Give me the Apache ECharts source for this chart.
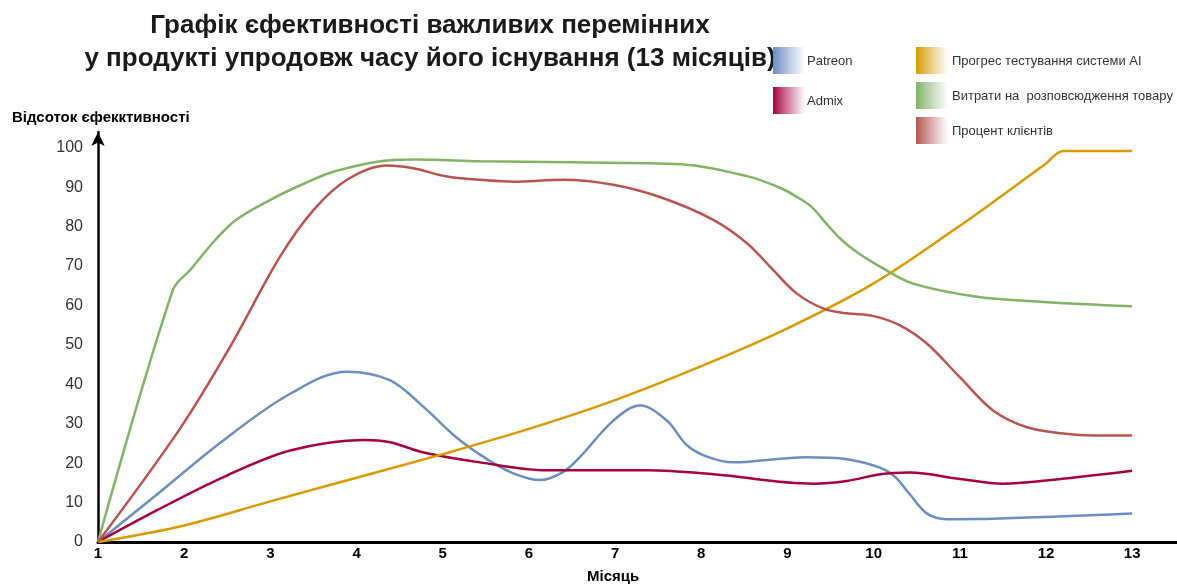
<!DOCTYPE html>
<html>
<head>
<meta charset="utf-8">
<script src="https://cdn.jsdelivr.net/npm/echarts@6/dist/echarts.min.js"></script>
<style>
  html, body { margin: 0; padding: 0; background: #ffffff; }
  #chart { width: 1177px; height: 585px; }
</style>
</head>
<body>
<div id="chart"></div>
<script>
// Series values as [month, percent] pairs, sampled along each curve
const patreon = [[1,0],[1.68,12],[2.45,25.7],[3.23,37.6],[3.89,43.2],[4.39,41],[4.78,34.2],[5.16,26.5],[5.5,21.2],
  [5.8,17.6],[6.13,15.7],[6.4,17.8],[6.59,21.5],[6.98,30.8],[7.29,34.6],[7.6,30.8],[7.83,24.6],[8.05,21.8],
  [8.37,20.2],[9.22,21.5],[9.69,21.0],[10.08,18.8],[10.25,16.5],[10.42,12.1],[10.62,7.2],[10.85,5.8],[11.39,5.9],[13,7.2]];
const admix = [[1,0],[1.68,8],[2.45,16.4],[3.23,23.2],[4.08,25.9],[4.39,25.3],[4.78,22.7],[5.43,20.2],[6.21,18.2],
  [7.37,18.2],[8.14,17.2],[9.3,14.8],[9.69,15.5],[10.08,17.2],[10.42,17.6],[11.0,16.0],[11.5,14.8],[12.0,15.6],[13,18.1]];
const aiProgress = [[1,0],[2,4.2],[3,10.3],[4,16.3],[5,22.3],[6,28.7],[7,36],[8,44.6],[9,54.2],[10,65.6],
  [11,80.2],[11.5,88],[12,96],[12.2,99.2],[13,99.2]];
const distributionCost = [[1,0],[1.87,64],[2.07,69],[2.36,76.6],[2.6,81.7],[3,86.8],[3.4,91],[3.74,94],[4.36,96.8],
  [4.7,97],[5.43,96.6],[6.5,96.3],[7.76,95.8],[8.53,92.8],[8.92,89.8],[9.12,87.4],[9.28,85.0],[9.45,80.8],
  [9.62,76.8],[9.82,73.3],[10.08,69.8],[10.45,65.6],[11.2,62.2],[11.97,60.9],[13,59.8]];
const clientShare = [[1,0],[1.95,28.7],[2.53,49.4],[3.11,72.3],[3.5,84.2],[3.89,91.9],[4.35,95.5],[4.66,94.8],
  [5.05,92.7],[5.43,91.9],[5.82,91.4],[6.4,91.9],[6.98,90.6],[7.56,87.2],[8.14,81.7],[8.53,75.8],[8.8,69.8],
  [9.11,63.0],[9.42,59.2],[9.69,58],[10,57.3],[10.3,55],[10.62,50.3],[11.0,41.8],[11.39,33.3],
  [11.78,29.1],[12.2,27.5],[12.55,27.0],[13,27.0]];

const seriesNames = ['Patreon', 'Admix', 'Прогрес тестування системи AI', 'Витрати на  розповсюдження товару', 'Процент клієнтів'];
const seriesData = [patreon, admix, aiProgress, distributionCost, clientShare];
const seriesColors = ['#6c8ebf', '#a50040', '#d79b00', '#82b366', '#b85450'];

const titleLines = ['Графік єфективності важливих перемінних', 'у продукті упродовж часу його існування (13 місяців)'];
const yAxisTitle = 'Відсоток єфекктивності';
const xAxisTitle = 'Місяць';

const chart = echarts.init(document.getElementById('chart'));

function swatch(x, y, color) {
  return {
    type: 'rect',
    shape: { x: x, y: y, width: 32, height: 27 },
    style: {
      fill: new echarts.graphic.LinearGradient(0, 0, 1, 0, [
        { offset: 0, color: color },
        { offset: 1, color: 'rgba(255,255,255,0.9)' }
      ])
    }
  };
}
function legendText(x, y, text) {
  return {
    type: 'text', x: x, y: y,
    style: { text: text, font: '13px "Liberation Sans", Arial, sans-serif', fill: '#333333', verticalAlign: 'middle' }
  };
}

const legendSlots = [[773, 47], [773, 87], [916, 47], [916, 82], [916, 117]];
const graphics = [
  {
    type: 'text', x: 430, y: 9,
    style: {
      text: titleLines.join('\n'), textAlign: 'center', lineHeight: 33,
      font: 'bold 26px "Liberation Sans", Arial, sans-serif', fill: '#1a1a1a'
    }
  },
  {
    type: 'text', x: 12, y: 118,
    style: { text: yAxisTitle, font: 'bold 15px "Liberation Sans", Arial, sans-serif', fill: '#000', verticalAlign: 'middle' }
  },
  {
    type: 'text', x: 587, y: 577,
    style: { text: xAxisTitle, font: 'bold 15px "Liberation Sans", Arial, sans-serif', fill: '#000', verticalAlign: 'middle' }
  }
];
seriesNames.forEach(function (name, i) {
  const s = legendSlots[i];
  graphics.push(swatch(s[0], s[1], seriesColors[i]));
  graphics.push(legendText(s[0] + (i < 2 ? 34 : 36), s[1] + 14, name));
});

chart.setOption({
  animation: false,
  backgroundColor: '#ffffff',
  grid: { left: 98, right: 0, top: 132, bottom: 43 },
  xAxis: {
    type: 'value', min: 1, max: 13.52, interval: 1,
    axisLine: { show: true, lineStyle: { color: '#000', width: 3 } },
    axisTick: { show: false },
    splitLine: { show: false },
    axisLabel: {
      showMaxLabel: false, margin: 4, color: '#000',
      fontFamily: '"Liberation Sans", Arial, sans-serif', fontWeight: 'bold', fontSize: 15
    }
  },
  yAxis: {
    type: 'value', min: 0, max: 104, interval: 10,
    axisLine: { show: true, lineStyle: { color: '#000', width: 2.5 }, symbol: ['none', 'arrow'], symbolSize: [10, 14] },
    axisTick: { show: false },
    splitLine: { show: false },
    axisLabel: {
      showMaxLabel: false, margin: 15, color: '#333333',
      fontFamily: '"Liberation Sans", Arial, sans-serif', fontSize: 16
    }
  },
  graphic: graphics,
  series: seriesData.map(function (data, i) {
    return {
      name: seriesNames[i], type: 'line', data: data,
      smooth: 0.35, showSymbol: false,
      lineStyle: { color: seriesColors[i], width: 2.5 },
      itemStyle: { color: seriesColors[i] }
    };
  })
});
</script>
</body>
</html>
